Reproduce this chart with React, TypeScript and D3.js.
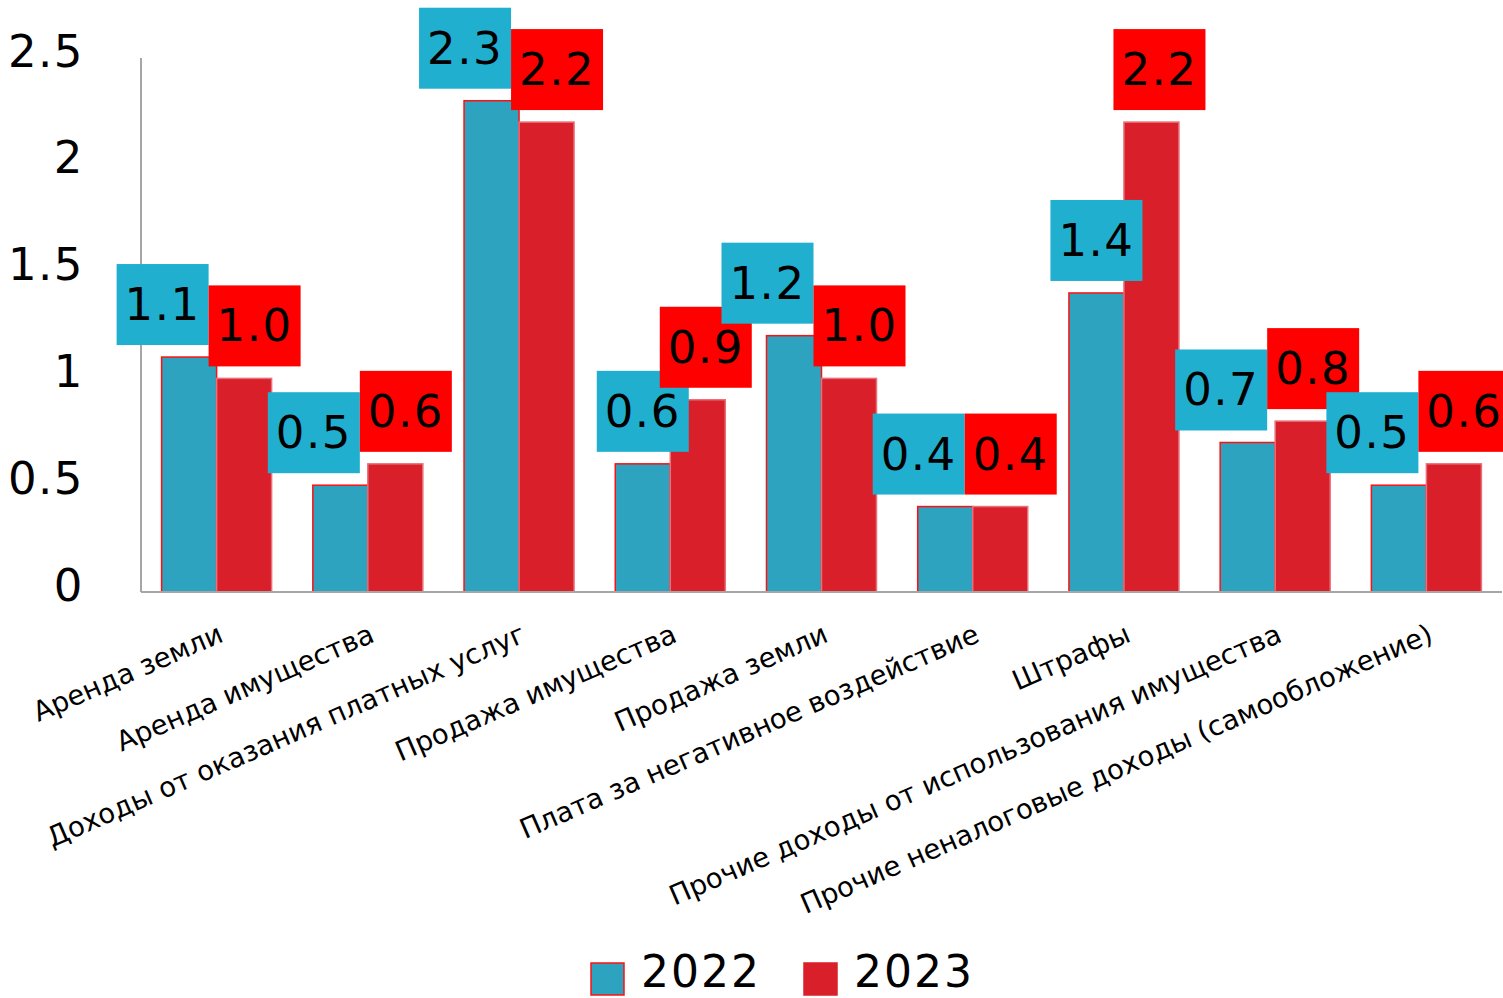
import React from "react";
import * as d3 from "d3";

const categories = [
  "Аренда земли",
  "Аренда имущества",
  "Доходы от оказания платных услуг",
  "Продажа имущества",
  "Продажа земли",
  "Плата за негативное воздействие",
  "Штрафы",
  "Прочие доходы от использования имущества",
  "Прочие неналоговые доходы (самообложение)",
];
const series = ["2022", "2023"];
const values2022 = [1.1, 0.5, 2.3, 0.6, 1.2, 0.4, 1.4, 0.7, 0.5];
const values2023 = [1.0, 0.6, 2.2, 0.9, 1.0, 0.4, 2.2, 0.8, 0.6];
const yTicks = [0, 0.5, 1, 1.5, 2, 2.5];

const W = 1503;
const H = 998;
const FONT = "'DejaVu Sans', Verdana, sans-serif";
const barColors = ["#2ea3bf", "#d9202a"];
const barStrokes = ["#ff1010", "#e8707a"];
const boxColors = ["#21afd0", "#ff0000"];

export default function App() {
  const left = 141;
  const right = 1502;
  const top = 58;
  const bottom = 592;
  const y = d3.scaleLinear().domain([0, 2.5]).range([bottom, top]);
  const x0 = d3.scaleBand<string>().domain(categories).range([left, right]).padding(0);
  const x1 = d3
    .scaleBand<string>()
    .domain(series)
    .range([0, x0.step()])
    .paddingInner(0)
    .paddingOuter(0.3745);
  const data = [values2022, values2023];
  const boxW = 92;
  const boxH = 81;
  const gap = 12;

  const labels: any[] = [];
  categories.forEach((c, i) => {
    const bx = x0(c)!;
    const pos = series.map((s, si) => {
      const v = data[si][i];
      const cx = bx + x1(s)! + x1.bandwidth() / 2 + (si === 1 ? 8 : 0);
      const b = y(v) - gap;
      return { cx, b, v, si };
    });
    const overlapY = boxH - Math.abs(pos[0].b - pos[1].b);
    if (overlapY > boxH * 0.25) {
      const meet = bx + x1(series[1])! - 8;
      pos[0].cx = meet - boxW / 2;
      pos[1].cx = meet + boxW / 2;
    }
    pos.forEach((p) => labels.push({ ...p, key: c + p.si }));
  });

  return (
    <svg width={W} height={H} style={{ display: "block", position: "absolute", left: 0, top: 0 }}>
      <rect width={W} height={H} fill="#fff" />
      {/* bars */}
      {categories.map((c, i) =>
        series.map((s, si) => {
          const v = data[si][i];
          return (
            <rect
              key={c + s}
              x={x0(c)! + x1(s)!}
              y={y(v)}
              width={x1.bandwidth()}
              height={y(0) - y(v)}
              fill={barColors[si]}
              stroke={barStrokes[si]}
              strokeWidth={1.5}
            />
          );
        })
      )}
      {/* axes */}
      <line x1={left} x2={left} y1={top} y2={bottom} stroke="#a6a6a6" strokeWidth={2} />
      <line x1={left} x2={right} y1={bottom} y2={bottom} stroke="#a6a6a6" strokeWidth={2} />
      {yTicks.map((t) => (
        <text
          key={t}
          x={84}
          y={y(t) - 7}
          textAnchor="end"
          dominantBaseline="central"
          fontFamily={FONT}
          fontSize={45}
          letterSpacing={1.5}
          fill="#000"
        >
          {String(t)}
        </text>
      ))}
      {/* category labels */}
      {categories.map((c) => (
        <text
          key={c}
          transform={`translate(${x0(c)! + x0.step() / 2},${bottom + 30}) rotate(-23.5)`}
          textAnchor="end"
          dy="0.75em"
          fontFamily={FONT}
          fontSize={27.5}
          fill="#000"
        >
          {c}
        </text>
      ))}
      {/* value labels */}
      {labels.map((l) => (
        <g key={l.key}>
          <rect x={l.cx - boxW / 2} y={l.b - boxH} width={boxW} height={boxH} fill={boxColors[l.si]} />
          <text
            x={l.cx}
            y={l.b - boxH / 2}
            textAnchor="middle"
            dominantBaseline="central"
            fontFamily={FONT}
            fontSize={45}
            letterSpacing={1.5}
            fill="#000"
          >
            {d3.format(".1f")(l.v)}
          </text>
        </g>
      ))}
      {/* legend */}
      {series.map((s, si) => {
        const lx = [591, 804][si];
        return (
          <g key={s}>
            <rect
              x={lx}
              y={963}
              width={33}
              height={32}
              fill={barColors[si]}
              stroke={si === 0 ? "#ff1010" : barColors[si]}
              strokeWidth={1.5}
            />
            <text x={lx + 50} y={987} fontFamily={FONT} fontSize={44} letterSpacing={2} fill="#000">
              {s}
            </text>
          </g>
        );
      })}
    </svg>
  );
}
